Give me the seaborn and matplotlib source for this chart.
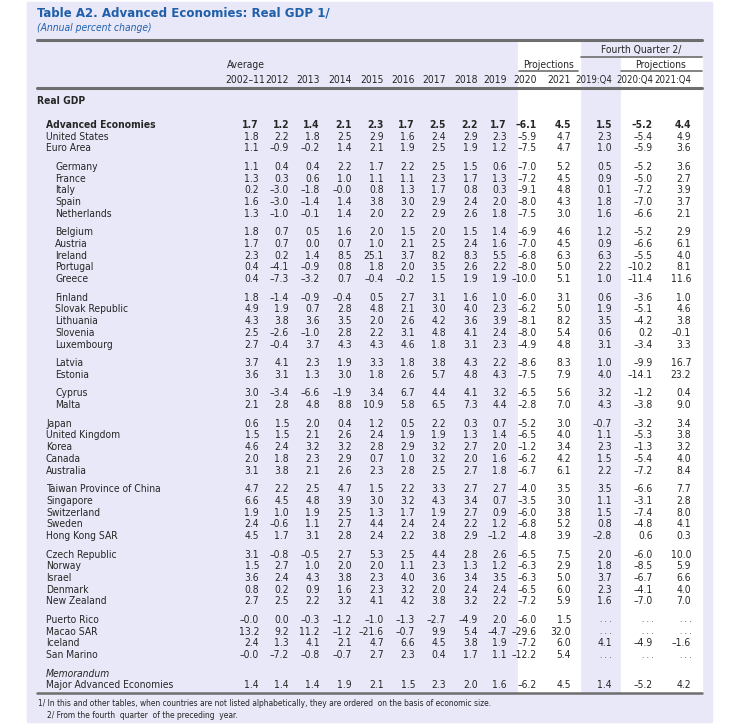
import numpy as np
import pandas as pd
import seaborn as sns
import matplotlib.pyplot as plt
from matplotlib import font_manager
from matplotlib.patches import Rectangle

# rows of the table, in print order
countries = ['Advanced Economies', 'United States', 'Euro Area',
             'Germany', 'France', 'Italy', 'Spain', 'Netherlands',
             'Belgium', 'Austria', 'Ireland', 'Portugal', 'Greece',
             'Finland', 'Slovak Republic', 'Lithuania', 'Slovenia', 'Luxembourg',
             'Latvia', 'Estonia', 'Cyprus', 'Malta',
             'Japan', 'United Kingdom', 'Korea', 'Canada', 'Australia',
             'Taiwan Province of China', 'Singapore', 'Switzerland', 'Sweden', 'Hong Kong SAR',
             'Czech Republic', 'Norway', 'Israel', 'Denmark', 'New Zealand',
             'Puerto Rico', 'Macao SAR', 'Iceland', 'San Marino',
             'Major Advanced Economies']
group_sizes = [3, 5, 5, 5, 2, 2, 5, 5, 5, 4, 1]   # blank gap between groups
col_labels = ['2002–11', '2012', '2013', '2014', '2015', '2016', '2017', '2018',
              '2019', '2020', '2021', '2019:Q4', '2020:Q4', '2021:Q4']

nan = np.nan
avg_2002_11 = [1.7, 1.8, 1.1, 1.1, 1.3, 0.2, 1.6, 1.3, 1.8, 1.7, 2.3, 0.4, 0.4, 1.8, 4.9, 4.3, 2.5, 2.7,
               3.7, 3.6, 3.0, 2.1, 0.6, 1.5, 4.6, 2.0, 3.1, 4.7, 6.6, 1.9, 2.4, 4.5, 3.1, 1.5, 3.6, 0.8,
               2.7, -0.0, 13.2, 2.4, -0.0, 1.4]
y2012 = [1.2, 2.2, -0.9, 0.4, 0.3, -3.0, -3.0, -1.0, 0.7, 0.7, 0.2, -4.1, -7.3, -1.4, 1.9, 3.8, -2.6, -0.4,
         4.1, 3.1, -3.4, 2.8, 1.5, 1.5, 2.4, 1.8, 3.8, 2.2, 4.5, 1.0, -0.6, 1.7, -0.8, 2.7, 2.4, 0.2,
         2.5, 0.0, 9.2, 1.3, -7.2, 1.4]
y2013 = [1.4, 1.8, -0.2, 0.4, 0.6, -1.8, -1.4, -0.1, 0.5, 0.0, 1.4, -0.9, -3.2, -0.9, 0.7, 3.6, -1.0, 3.7,
         2.3, 1.3, -6.6, 4.8, 2.0, 2.1, 3.2, 2.3, 2.1, 2.5, 4.8, 1.9, 1.1, 3.1, -0.5, 1.0, 4.3, 0.9,
         2.2, -0.3, 11.2, 4.1, -0.8, 1.4]
y2014 = [2.1, 2.5, 1.4, 2.2, 1.0, -0.0, 1.4, 1.4, 1.6, 0.7, 8.5, 0.8, 0.7, -0.4, 2.8, 3.5, 2.8, 4.3,
         1.9, 3.0, -1.9, 8.8, 0.4, 2.6, 3.2, 2.9, 2.6, 4.7, 3.9, 2.5, 2.7, 2.8, 2.7, 2.0, 3.8, 1.6,
         3.2, -1.2, -1.2, 2.1, -0.7, 1.9]
y2015 = [2.3, 2.9, 2.1, 1.7, 1.1, 0.8, 3.8, 2.0, 2.0, 1.0, 25.1, 1.8, -0.4, 0.5, 4.8, 2.0, 2.2, 4.3,
         3.3, 1.8, 3.4, 10.9, 1.2, 2.4, 2.8, 0.7, 2.3, 1.5, 3.0, 1.3, 4.4, 2.4, 5.3, 2.0, 2.3, 2.3,
         4.1, -1.0, -21.6, 4.7, 2.7, 2.1]
y2016 = [1.7, 1.6, 1.9, 2.2, 1.1, 1.3, 3.0, 2.2, 1.5, 2.1, 3.7, 2.0, -0.2, 2.7, 2.1, 2.6, 3.1, 4.6,
         1.8, 2.6, 6.7, 5.8, 0.5, 1.9, 2.9, 1.0, 2.8, 2.2, 3.2, 1.7, 2.4, 2.2, 2.5, 1.1, 4.0, 3.2,
         4.2, -1.3, -0.7, 6.6, 2.3, 1.5]
y2017 = [2.5, 2.4, 2.5, 2.5, 2.3, 1.7, 2.9, 2.9, 2.0, 2.5, 8.2, 3.5, 1.5, 3.1, 3.0, 4.2, 4.8, 1.8,
         3.8, 5.7, 4.4, 6.5, 2.2, 1.9, 3.2, 3.2, 2.5, 3.3, 4.3, 1.9, 2.4, 3.8, 4.4, 2.3, 3.6, 2.0,
         3.8, -2.7, 9.9, 4.5, 0.4, 2.3]
y2018 = [2.2, 2.9, 1.9, 1.5, 1.7, 0.8, 2.4, 2.6, 1.5, 2.4, 8.3, 2.6, 1.9, 1.6, 4.0, 3.6, 4.1, 3.1,
         4.3, 4.8, 4.1, 7.3, 0.3, 1.3, 2.7, 2.0, 2.7, 2.7, 3.4, 2.7, 2.2, 2.9, 2.8, 1.3, 3.4, 2.4,
         3.2, -4.9, 5.4, 3.8, 1.7, 2.0]
y2019 = [1.7, 2.3, 1.2, 0.6, 1.3, 0.3, 2.0, 1.8, 1.4, 1.6, 5.5, 2.2, 1.9, 1.0, 2.3, 3.9, 2.4, 2.3,
         2.2, 4.3, 3.2, 4.4, 0.7, 1.4, 2.0, 1.6, 1.8, 2.7, 0.7, 0.9, 1.2, -1.2, 2.6, 1.2, 3.5, 2.4,
         2.2, 2.0, -4.7, 1.9, 1.1, 1.6]
proj_2020 = [-6.1, -5.9, -7.5, -7.0, -7.2, -9.1, -8.0, -7.5, -6.9, -7.0, -6.8, -8.0, -10.0, -6.0, -6.2, -8.1,
             -8.0, -4.9, -8.6, -7.5, -6.5, -2.8, -5.2, -6.5, -1.2, -6.2, -6.7, -4.0, -3.5, -6.0, -6.8,
             -4.8, -6.5, -6.3, -6.3, -6.5, -7.2, -6.0, -29.6, -7.2, -12.2, -6.2]
proj_2021 = [4.5, 4.7, 4.7, 5.2, 4.5, 4.8, 4.3, 3.0, 4.6, 4.5, 6.3, 5.0, 5.1, 3.1, 5.0, 8.2, 5.4, 4.8,
             8.3, 7.9, 5.6, 7.0, 3.0, 4.0, 3.4, 4.2, 6.1, 3.5, 3.0, 3.8, 5.2, 3.9, 7.5, 2.9, 5.0, 6.0,
             5.9, 1.5, 32.0, 6.0, 5.4, 4.5]
q4_2019 = [1.5, 2.3, 1.0, 0.5, 0.9, 0.1, 1.8, 1.6, 1.2, 0.9, 6.3, 2.2, 1.0, 0.6, 1.9, 3.5, 0.6, 3.1,
           1.0, 4.0, 3.2, 4.3, -0.7, 1.1, 2.3, 1.5, 2.2, 3.5, 1.1, 1.5, 0.8, -2.8, 2.0, 1.8, 3.7, 2.3,
           1.6, nan, nan, 4.1, nan, 1.4]
q4_2020 = [-5.2, -5.4, -5.9, -5.2, -5.0, -7.2, -7.0, -6.6, -5.2, -6.6, -5.5, -10.2, -11.4, -3.6, -5.1, -4.2,
           0.2, -3.4, -9.9, -14.1, -1.2, -3.8, -3.2, -5.3, -1.3, -5.4, -7.2, -6.6, -3.1, -7.4, -4.8,
           0.6, -6.0, -8.5, -6.7, -4.1, -7.0, nan, nan, -4.9, nan, -5.2]
q4_2021 = [4.4, 4.9, 3.6, 3.6, 2.7, 3.9, 3.7, 2.1, 2.9, 6.1, 4.0, 8.1, 11.6, 1.0, 4.6, 3.8, -0.1, 3.3,
           16.7, 23.2, 0.4, 9.0, 3.4, 3.8, 3.2, 4.0, 8.4, 7.7, 2.8, 8.0, 4.1, 0.3, 10.0, 5.9, 6.6, 4.0,
           7.0, nan, nan, -1.6, nan, 4.2]

table = pd.DataFrame(dict(zip(col_labels, [avg_2002_11, y2012, y2013, y2014, y2015, y2016, y2017, y2018,
                                           y2019, proj_2020, proj_2021, q4_2019, q4_2020, q4_2021])),
                     index=countries)


def fmt(v):
    if np.isnan(v):
        return '. . .'
    return f'{v:.1f}'.replace('-', '–')


sns.set_theme(style='white')

# the report uses a narrow sans; take the narrowest one that is installed
fonts = font_manager.fontManager.ttflist
names = {f.name for f in fonts}
if 'Liberation Sans Narrow' in names:
    plt.rcParams['font.family'] = ['Liberation Sans Narrow', 'DejaVu Sans']
    fs, squeeze = 8.2, 1.0
elif any(f.name == 'DejaVu Sans' and f.stretch in ('condensed', 'semi-condensed') for f in fonts):
    plt.rcParams['font.family'] = ['DejaVu Sans']
    plt.rcParams['font.stretch'] = 'condensed'
    fs, squeeze = 7.4, 0.9
else:
    plt.rcParams['font.family'] = ['Liberation Sans', 'DejaVu Sans']
    fs, squeeze = 7.4, 0.9

fig = plt.figure(figsize=(7.5, 7.24), dpi=100)
ax = fig.add_axes([0, 0, 1, 1])
ax.set_xlim(0, 750)
ax.set_ylim(724, 0)
ax.axis('off')

panel = '#E8E8F8'
blue = '#1F5FAA'
rule = '#6E6E6E'
ax.add_patch(Rectangle((27, 2), 685, 720, color=panel, zorder=0))
ax.add_patch(Rectangle((518, 41), 62, 652, color='white', zorder=0.5))
ax.add_patch(Rectangle((621, 58), 81, 635, color='white', zorder=0.5))

# title
ax.text(37, 13, 'Table A2. Advanced Economies: Real GDP 1/', fontsize=10.5 * squeeze, fontweight='bold',
        color=blue, va='center')
ax.text(37, 28, '(Annual percent change)', fontsize=fs, style='italic', color=blue, va='center')

# column layout
col_right = [259, 289, 320, 352, 384, 415, 446, 478, 507, 537, 571, 612, 653, 691]

ax.plot([37, 702], [40, 40], color=rule, lw=2.2)
ax.plot([581, 702], [57, 57], color=rule, lw=1.2)
ax.plot([519, 578], [71, 71], color=rule, lw=1.2)
ax.plot([621, 702], [71, 71], color=rule, lw=1.2)
ax.plot([37, 702], [88, 88], color=rule, lw=2.2)
ax.plot([37, 702], [693, 693], color=rule, lw=1.8)

ax.text(641, 50, 'Fourth Quarter 2/', fontsize=fs, ha='center', va='center')
ax.text(265, 65, 'Average', fontsize=fs, ha='right', va='center')
ax.text(549, 65, 'Projections', fontsize=fs, ha='center', va='center')
ax.text(661, 65, 'Projections', fontsize=fs, ha='center', va='center')
for xr, lab in zip(col_right, col_labels):
    xr = xr + 6 if lab == '2002–11' else xr
    ax.text(xr, 80, lab, fontsize=fs * (0.93 if ':' in lab else 1), ha='right', va='center')

ax.text(37, 101, 'Real GDP', fontsize=fs, fontweight='bold', va='center')

# row positions: fixed line height, extra gap between groups
line_h, gap = 11.7, 6.9
row_y = []
y = 125
for gi, n in enumerate(group_sizes):
    if gi == len(group_sizes) - 1:
        ax.text(46, y, 'Memorandum', fontsize=fs, style='italic', va='center')
        y += line_h
    for _ in range(n):
        row_y.append(y)
        y += line_h
    y += gap

for i, (name, vals) in enumerate(table.iterrows()):
    yy = row_y[i]
    bold = 'bold' if name == 'Advanced Economies' else 'normal'
    x0 = 55 if 3 <= i <= 21 else 46
    ax.text(x0, yy, name, fontsize=fs, fontweight=bold, va='center')
    for xr, v in zip(col_right, vals.values):
        ax.text(xr, yy, fmt(v), fontsize=fs if not np.isnan(v) else 6, fontweight=bold,
                ha='right', va='center')

ax.text(38, 703, '1/ In this and other tables, when countries are not listed alphabetically, they are ordered  '
        'on the basis of economic size.', fontsize=fs * 0.82, va='center')
ax.text(47, 715, '2/ From the fourth  quarter  of the preceding  year.', fontsize=fs * 0.82, va='center')

fig.savefig('out.png', dpi=100)
